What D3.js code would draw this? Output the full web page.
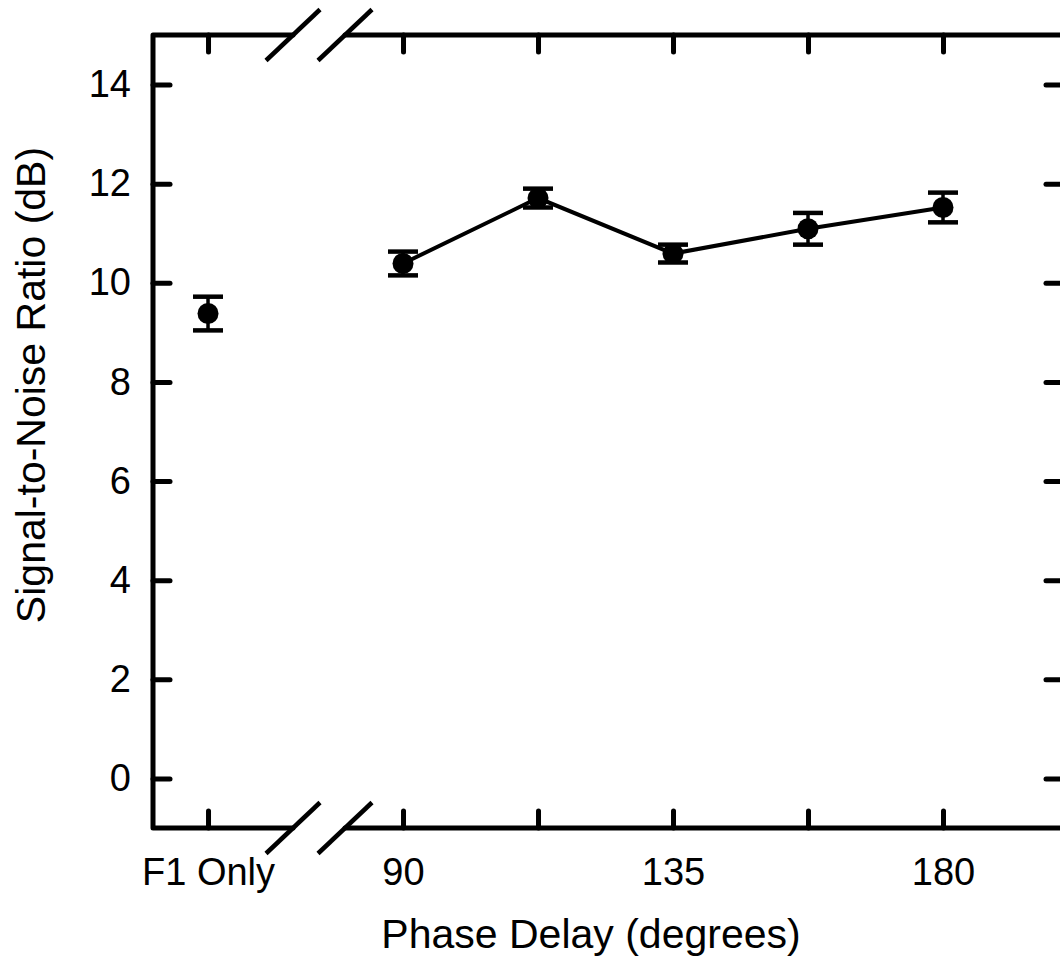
<!DOCTYPE html>
<html>
<head>
<meta charset="utf-8">
<script src="https://cdn.jsdelivr.net/npm/d3@7"></script>
<style>
  body { margin: 0; background: #fff; }
  text { font-family: "Liberation Sans", Arial, sans-serif; fill: #000; }
</style>
</head>
<body>
<div id="chart"></div>
<script>
// values
const phases = [90, 112.5, 135, 157.5, 180];
const snr = [10.39, 11.71, 10.59, 11.09, 11.52];
const snrErr = [0.24, 0.19, 0.18, 0.32, 0.30];

const f1Label = "F1 Only";
const f1Snr = 9.38;
const f1Err = 0.34;

const yTicks = [0, 2, 4, 6, 8, 10, 12, 14];
const xTicks = [90, 112.5, 135, 157.5, 180];
const xTickLabels = ["90", "", "135", "", "180"];

const width = 1060, height = 969;
const margin = {top: 35, left: 153, bottom: 141};

// F1 Only sits left of the axis break, on the same pixel scale
const f1Pos = 57.5;
const breakPos = 76;

const x = d3.scaleLinear()
    .domain([48.33, 200])
    .range([margin.left, margin.left + 910]);

const y = d3.scaleLinear()
    .domain([-1, 15])
    .range([height - margin.bottom, margin.top]);

const svg = d3.select("#chart")
    .append("svg")
    .attr("width", width)
    .attr("height", height);

const x0 = x.range()[0], x1 = x.range()[1];
const yB = y.range()[0], yT = y.range()[1];
const gapL = x(breakPos) - 26, gapR = x(breakPos) + 26;

// frame, with the break gap in top and bottom lines
const frame = svg.append("g")
    .attr("fill", "none")
    .attr("stroke", "#000")
    .attr("stroke-width", 5)
    .attr("stroke-linecap", "round")
    .attr("stroke-linejoin", "round");

frame.append("path").attr("d", `M${gapL},${yT}H${x0}V${yB}H${gapL}`);
frame.append("path").attr("d", `M${gapR},${yT}H${x1}`);
frame.append("path").attr("d", `M${gapR},${yB}H${x1}`);
frame.append("path").attr("d", `M${x1},${yT}V${yB}`);

// break marks
[yT, yB].forEach(yy => {
    [gapL, gapR].forEach(xx => {
        frame.append("line")
            .attr("x1", xx - 27).attr("y1", yy + 25.5)
            .attr("x2", xx + 27).attr("y2", yy - 25.5)
            .attr("stroke-width", 4.5)
            .attr("stroke-linecap", "butt");
    });
});

// ticks, all pointing inward
const tickLen = 17;
const allX = [f1Pos].concat(xTicks);

const bottomAxis = d3.axisBottom(x)
    .tickValues(allX)
    .tickSizeInner(-tickLen)
    .tickSizeOuter(0)
    .tickPadding(30)
    .tickFormat(d => d === f1Pos ? f1Label : xTickLabels[xTicks.indexOf(d)]);

const topAxis = d3.axisTop(x)
    .tickValues(allX)
    .tickSizeInner(-tickLen)
    .tickSizeOuter(0)
    .tickFormat("");

const leftAxis = d3.axisLeft(y)
    .tickValues(yTicks)
    .tickSizeInner(-tickLen)
    .tickSizeOuter(0)
    .tickPadding(22)
    .tickFormat(d3.format("d"));

const rightAxis = d3.axisRight(y)
    .tickValues(yTicks)
    .tickSizeInner(-tickLen)
    .tickSizeOuter(0)
    .tickFormat("");

function styleAxis(g) {
    g.select(".domain").remove();
    g.selectAll(".tick line")
        .attr("stroke", "#000")
        .attr("stroke-width", 5)
        .attr("stroke-linecap", "round");
    g.selectAll(".tick text")
        .attr("font-size", 38)
        .attr("font-family", "'Liberation Sans', Arial, sans-serif")
        .attr("fill", "#000");
}

svg.append("g").attr("transform", `translate(0,${yB})`).call(bottomAxis).call(styleAxis);
svg.append("g").attr("transform", `translate(0,${yT})`).call(topAxis).call(styleAxis);
svg.append("g").attr("transform", `translate(${x0},0)`).call(leftAxis).call(styleAxis);
svg.append("g").attr("transform", `translate(${x1},0)`).call(rightAxis).call(styleAxis);

// axis titles
svg.append("text")
    .attr("x", 591)
    .attr("y", 948)
    .attr("text-anchor", "middle")
    .attr("font-size", 41)
    .text("Phase Delay (degrees)");

svg.append("text")
    .attr("transform", "translate(45,385) rotate(-90)")
    .attr("text-anchor", "middle")
    .attr("font-size", 41)
    .text("Signal-to-Noise Ratio (dB)");

// data
const pts = phases.map((p, i) => ({x: p, y: snr[i], e: snrErr[i]}));
const allPts = [{x: f1Pos, y: f1Snr, e: f1Err}].concat(pts);

svg.append("path")
    .datum(pts)
    .attr("fill", "none")
    .attr("stroke", "#000")
    .attr("stroke-width", 4)
    .attr("d", d3.line().x(d => x(d.x)).y(d => y(d.y)));

const capW = 15;
const eb = svg.append("g").attr("stroke", "#000");

eb.selectAll(".err")
    .data(allPts)
    .enter()
    .append("line")
    .attr("class", "err")
    .attr("stroke-width", 3.5)
    .attr("x1", d => x(d.x)).attr("x2", d => x(d.x))
    .attr("y1", d => y(d.y - d.e)).attr("y2", d => y(d.y + d.e));

eb.selectAll(".cap")
    .data(allPts.flatMap(d => [{x: d.x, y: d.y - d.e}, {x: d.x, y: d.y + d.e}]))
    .enter()
    .append("line")
    .attr("class", "cap")
    .attr("stroke-width", 4.5)
    .attr("x1", d => x(d.x) - capW).attr("x2", d => x(d.x) + capW)
    .attr("y1", d => y(d.y)).attr("y2", d => y(d.y));

svg.selectAll(".dot")
    .data(allPts)
    .enter()
    .append("circle")
    .attr("class", "dot")
    .attr("cx", d => x(d.x))
    .attr("cy", d => y(d.y))
    .attr("r", 10.5)
    .attr("fill", "#000");
</script>
</body>
</html>
